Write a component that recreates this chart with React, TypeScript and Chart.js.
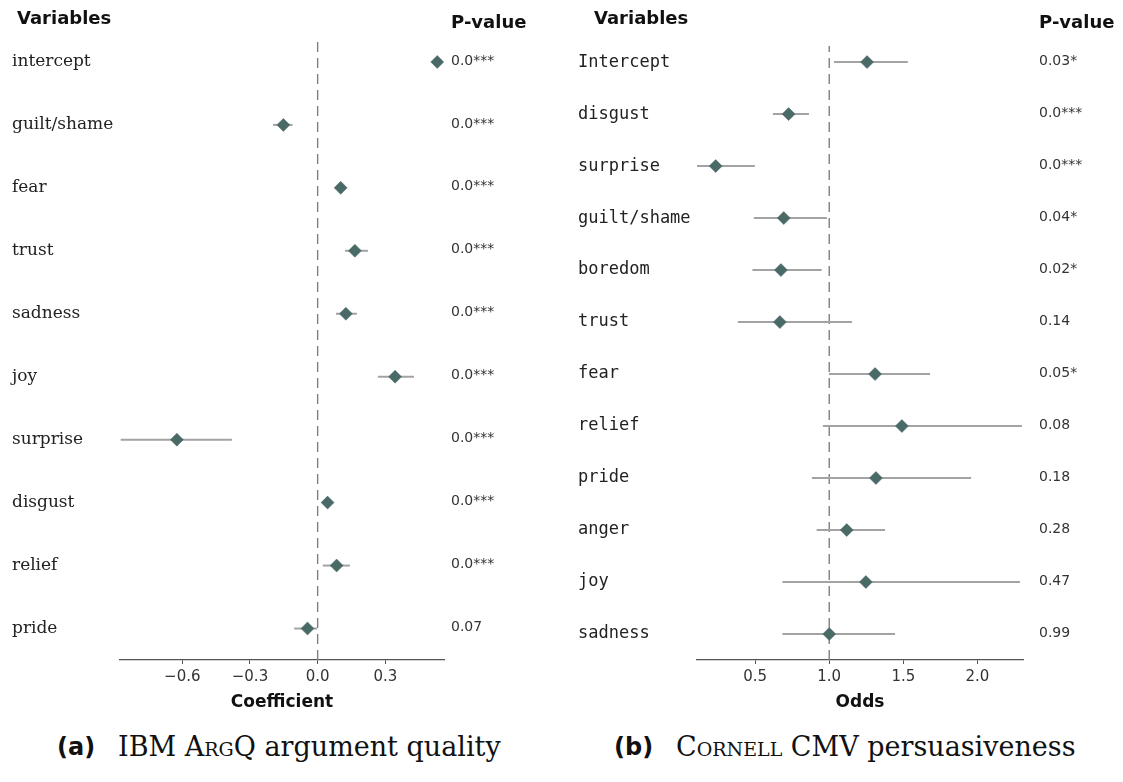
import React, { useEffect, useRef } from "react";
import { Chart, registerables } from "chart.js";

Chart.register(...registerables);

// ---------- Panel (a): IBM ArgQ argument quality ----------
const A_VARS = ["intercept", "guilt/shame", "fear", "trust", "sadness", "joy", "surprise", "disgust", "relief", "pride"];
const A_EST = [0.53, -0.152, 0.102, 0.165, 0.125, 0.343, -0.624, 0.044, 0.084, -0.045];
const A_LO = [0.522, -0.198, 0.09, 0.121, 0.081, 0.267, -0.873, 0.036, 0.023, -0.104];
const A_HI = [0.538, -0.111, 0.114, 0.223, 0.174, 0.427, -0.38, 0.052, 0.143, -0.002];
const A_P = ["0.0***", "0.0***", "0.0***", "0.0***", "0.0***", "0.0***", "0.0***", "0.0***", "0.0***", "0.07"];
const A_TICKS = [-0.6, -0.3, 0.0, 0.3];

// ---------- Panel (b): Cornell CMV persuasiveness ----------
const B_VARS = ["Intercept", "disgust", "surprise", "guilt/shame", "boredom", "trust", "fear", "relief", "pride", "anger", "joy", "sadness"];
const B_EST = [1.255, 0.726, 0.234, 0.693, 0.674, 0.667, 1.309, 1.49, 1.315, 1.118, 1.247, 1.0];
const B_LO = [1.032, 0.62, 0.108, 0.491, 0.482, 0.383, 0.998, 0.957, 0.883, 0.915, 0.684, 0.684];
const B_HI = [1.53, 0.863, 0.498, 0.984, 0.949, 1.153, 1.68, 2.3, 1.957, 1.376, 2.286, 1.444];
const B_P = ["0.03*", "0.0***", "0.0***", "0.04*", "0.02*", "0.14", "0.05*", "0.08", "0.18", "0.28", "0.47", "0.99"];
const B_TICKS = [0.5, 1.0, 1.5, 2.0];

const DIAMOND = "#4a6a67";
const CI_COLOR = "#a3a3a3";
const REF_COLOR = "#808080";
const AXIS_COLOR = "#555555";

type PanelProps = {
  vars: string[];
  est: number[];
  lo: number[];
  hi: number[];
  pv: string[];
  ticks: number[];
  xmin: number;
  xmax: number;
  ref: number;
  ymax: number;
  xTitle: string;
  labelFont: string;
  padLeft: number;
  padRight: number;
  padTop: number;
  width: number;
  labelX: number;
  varX: number;
  pX: number;
};

function fmtTick(v: number): string {
  const s = Math.abs(v).toFixed(1);
  return v < -1e-9 ? "\u2212" + s : s;
}

function ForestPanel(p: PanelProps) {
  const ref = useRef<HTMLCanvasElement | null>(null);
  useEffect(() => {
    const canvas = ref.current;
    if (!canvas) return;
    const n = p.vars.length;
    const yOf = (i: number) => n - 1 - i;

    const ciSets = p.vars.map((_, i) => ({
      type: "line" as const,
      data: [
        { x: p.lo[i], y: yOf(i) },
        { x: p.hi[i], y: yOf(i) },
      ],
      borderColor: CI_COLOR,
      borderWidth: 2,
      pointRadius: 0,
      showLine: true,
      fill: false,
    }));

    const textPlugin = {
      id: "forestText",
      afterDraw(chart: any) {
        const ctx = chart.ctx as CanvasRenderingContext2D;
        const ys = chart.scales.y;
        ctx.save();
        ctx.textBaseline = "middle";
        ctx.textAlign = "left";
        ctx.fillStyle = "#111";
        ctx.font = "bold 18px 'DejaVu Sans'";
        ctx.fillText("Variables", p.varX, 19);
        ctx.fillText("P-value", p.pX, 23);
        for (let i = 0; i < n; i++) {
          const y = ys.getPixelForValue(yOf(i));
          ctx.fillStyle = "#222";
          ctx.font = p.labelFont;
          ctx.fillText(p.vars[i], p.labelX, y);
          ctx.fillStyle = "#333";
          ctx.font = "14px 'DejaVu Sans'";
          ctx.fillText(p.pv[i], p.pX, y - 1);
        }
        ctx.restore();
      },
    };

    const chart = new Chart(canvas, {
      type: "scatter",
      data: {
        datasets: [
          {
            data: p.est.map((v, i) => ({ x: v, y: yOf(i) })),
            pointStyle: "rectRot",
            pointRadius: 6.5,
            backgroundColor: DIAMOND,
            borderColor: DIAMOND,
            borderWidth: 0.5,
          } as any,
          ...ciSets,
          {
            type: "line",
            data: [
              { x: p.ref, y: -0.5 },
              { x: p.ref, y: p.ymax },
            ],
            borderColor: REF_COLOR,
            borderWidth: 1.4,
            borderDash: [10, 6],
            pointRadius: 0,
            showLine: true,
            fill: false,
          } as any,
        ],
      },
      options: {
        animation: false,
        responsive: false,
        maintainAspectRatio: false,
        events: [],
        layout: { padding: { left: p.padLeft, right: p.padRight, top: p.padTop, bottom: 0 } },
        plugins: { legend: { display: false }, tooltip: { enabled: false } },
        scales: {
          x: {
            type: "linear",
            min: p.xmin,
            max: p.xmax,
            afterBuildTicks: (s: any) => {
              s.ticks = p.ticks.map((v) => ({ value: v }));
            },
            afterFit: (s: any) => {
              s.height = 70;
            },
            grid: {
              display: true,
              drawOnChartArea: false,
              drawTicks: true,
              tickLength: 4,
              color: AXIS_COLOR,
              lineWidth: 1,
            },
            border: { display: true, color: AXIS_COLOR, width: 1.3 },
            ticks: {
              color: "#333",
              font: { family: "'DejaVu Sans'", size: 15 },
              padding: 4,
              maxRotation: 0,
              autoSkip: false,
              callback: (v: any) => fmtTick(Number(v)),
            },
            title: {
              display: true,
              text: p.xTitle,
              color: "#111",
              font: { family: "'DejaVu Sans'", size: 17, weight: "bold" },
              padding: { top: 0, bottom: 17 },
            },
          },
          y: { type: "linear", min: -0.5, max: p.ymax, display: false },
        },
      } as any,
      plugins: [textPlugin],
    });
    return () => chart.destroy();
  }, []);
  return <canvas ref={ref} width={p.width} height={730} style={{ width: p.width, height: 730, display: "block" }} />;
}

const capSerif: React.CSSProperties = {
  position: "absolute",
  fontFamily: "'DejaVu Serif'",
  fontSize: 27,
  lineHeight: "30px",
  color: "#111",
  whiteSpace: "nowrap",
};
const capBold: React.CSSProperties = {
  position: "absolute",
  fontFamily: "'DejaVu Sans'",
  fontWeight: "bold",
  fontSize: 24,
  lineHeight: "30px",
  color: "#111",
  whiteSpace: "nowrap",
};

export default function App() {
  return (
    <div style={{ position: "fixed", left: 0, top: 0, width: 1123, height: 782, background: "#fff", overflow: "hidden" }}>
      <div style={{ position: "absolute", left: 0, top: 0 }}>
        <ForestPanel
          vars={A_VARS}
          est={A_EST}
          lo={A_LO}
          hi={A_HI}
          pv={A_P}
          ticks={A_TICKS}
          xmin={-0.876}
          xmax={0.56}
          ref={0}
          ymax={9.38}
          xTitle="Coefficient"
          labelFont="17px 'DejaVu Serif'"
          padLeft={120}
          padRight={116}
          padTop={38}
          width={560}
          labelX={12}
          varX={17}
          pX={451}
        />
      </div>
      <div style={{ position: "absolute", left: 560, top: 0 }}>
        <ForestPanel
          vars={B_VARS}
          est={B_EST}
          lo={B_LO}
          hi={B_HI}
          pv={B_P}
          ticks={B_TICKS}
          xmin={0.108}
          xmax={2.307}
          ref={1}
          ymax={11.31}
          xTitle="Odds"
          labelFont="17px 'DejaVu Sans Mono'"
          padLeft={137}
          padRight={100}
          padTop={46}
          width={563}
          labelX={18}
          varX={34}
          pX={479}
        />
      </div>
      <span style={{ ...capBold, left: 57, top: 732 }}>(a)</span>
      <span style={{ ...capSerif, left: 118, top: 732 }}>
        IBM <span style={{ fontVariant: "small-caps" }}>ArgQ</span> argument quality
      </span>
      <span style={{ ...capBold, left: 614, top: 732 }}>(b)</span>
      <span style={{ ...capSerif, left: 676, top: 732 }}>
        <span style={{ fontVariant: "small-caps" }}>Cornell</span> CMV persuasiveness
      </span>
    </div>
  );
}
